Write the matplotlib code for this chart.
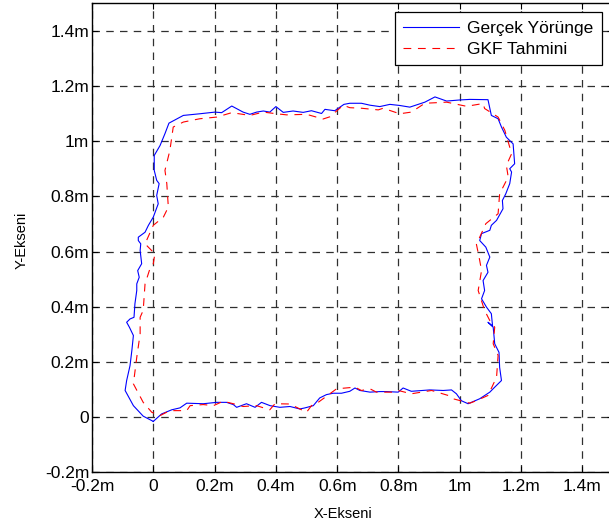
import matplotlib
matplotlib.use("Agg")
import matplotlib.pyplot as plt

_FONT = "Liberation Sans"
_TICK_SIZE = 12.5
_LEGEND_SIZE = 12.5
_LABEL_SIZE = 10.5

_BLUE = "#0000ff"
_RED = "#ff0000"
_GRID = "#303030"

# Ground truth trajectory (metres)
true_x = [
    0.000, 0.027, 0.060, 0.087, 0.109, 0.163, 0.207, 0.239, 0.261, 0.272, 0.304, 0.332,
    0.353, 0.381, 0.413, 0.446, 0.478, 0.495, 0.522, 0.543, 0.565, 0.587, 0.614, 0.641,
    0.658, 0.674, 0.707, 0.739, 0.761, 0.799, 0.815, 0.842, 0.902, 0.946, 0.973, 0.989,
    1.005, 1.027, 1.065, 1.098, 1.114, 1.136,
    1.130, 1.128, 1.114, 1.109, 1.092, 1.107, 1.103, 1.087, 1.071, 1.081, 1.076, 1.092,
    1.087, 1.098, 1.085, 1.065, 1.071, 1.098, 1.103, 1.120, 1.141, 1.139, 1.150, 1.163,
    1.169, 1.163, 1.179, 1.174, 1.152, 1.136, 1.125, 1.103, 1.092,
    1.033, 1.000, 0.957, 0.919, 0.886, 0.837, 0.804, 0.772, 0.739, 0.707, 0.679, 0.641,
    0.622, 0.592, 0.560, 0.549, 0.516, 0.489, 0.456, 0.424, 0.400, 0.380, 0.359, 0.337,
    0.315, 0.293, 0.256, 0.223, 0.201, 0.152, 0.098, 0.051,
    0.038, 0.022, 0.003, 0.003, 0.011, 0.019, 0.011, 0.016, 0.000, -0.016, -0.027, -0.049,
    -0.049, -0.041, -0.043, -0.038, -0.051, -0.046, -0.054, -0.054, -0.060, -0.063, -0.076,
    -0.087, -0.078, -0.065, -0.070, -0.076, -0.087, -0.092, -0.065, -0.033, 0.000,
]
true_y = [
    -0.015, 0.012, 0.027, 0.034, 0.051, 0.049, 0.054, 0.054, 0.046, 0.036, 0.049, 0.036,
    0.054, 0.042, 0.036, 0.039, 0.030, 0.034, 0.042, 0.070, 0.082, 0.087, 0.087, 0.094,
    0.106, 0.097, 0.091, 0.093, 0.093, 0.091, 0.106, 0.094, 0.099, 0.097, 0.099, 0.085,
    0.060, 0.049, 0.067, 0.091, 0.109, 0.133,
    0.181, 0.235, 0.266, 0.326, 0.344, 0.330, 0.375, 0.399, 0.429, 0.459, 0.495, 0.525,
    0.550, 0.580, 0.616, 0.640, 0.665, 0.677, 0.695, 0.713, 0.755, 0.785, 0.809, 0.846,
    0.888, 0.900, 0.918, 0.990, 1.014, 1.051, 1.081, 1.093, 1.150,
    1.151, 1.149, 1.145, 1.160, 1.141, 1.123, 1.129, 1.133, 1.125, 1.130, 1.137, 1.137,
    1.133, 1.110, 1.115, 1.100, 1.110, 1.104, 1.109, 1.104, 1.125, 1.105, 1.109, 1.105,
    1.097, 1.105, 1.127, 1.103, 1.105, 1.099, 1.093, 1.065,
    1.027, 0.984, 0.948, 0.894, 0.858, 0.846, 0.803, 0.773, 0.725, 0.695, 0.670, 0.652,
    0.640, 0.628, 0.604, 0.556, 0.531, 0.507, 0.483, 0.459, 0.411, 0.362, 0.356,
    0.344, 0.326, 0.296, 0.242, 0.187, 0.133, 0.097, 0.042, 0.004, -0.015,
]

# GKF (filter) estimate (metres)
est_x = [
    0.022, 0.054, 0.109, 0.120, 0.163, 0.196, 0.228, 0.261, 0.293, 0.337, 0.380, 0.397,
    0.446, 0.462, 0.500, 0.516, 0.538, 0.598, 0.658, 0.679, 0.707, 0.728, 0.783, 0.799,
    0.842, 0.908, 0.962, 0.978, 1.033, 1.054, 1.092, 1.120, 1.125, 1.109, 1.114, 1.098,
    1.081, 1.060, 1.071, 1.065, 1.054, 1.065, 1.085, 1.125, 1.130, 1.158, 1.152, 1.169,
    1.163, 1.147, 1.125, 1.081, 1.076, 1.022, 0.957, 0.886, 0.842, 0.804, 0.750, 0.734,
    0.679, 0.641, 0.620, 0.576, 0.554, 0.500, 0.435, 0.402, 0.359, 0.315, 0.256, 0.207,
    0.152, 0.098, 0.065, 0.054, 0.038, 0.044, 0.049, 0.033, 0.000, -0.027, 0.005, 0.000,
    -0.011, -0.027, -0.033, -0.043, -0.043, -0.054, -0.065, -0.033, -0.005, 0.022,
]
est_y = [
    0.006, 0.024, 0.024, 0.042, 0.046, 0.042, 0.058, 0.049, 0.039, 0.042, 0.027, 0.049,
    0.048, 0.039, 0.018, 0.042, 0.054, 0.103, 0.109, 0.097, 0.103, 0.091, 0.091, 0.097,
    0.085, 0.097, 0.079, 0.067, 0.051, 0.060, 0.079, 0.145, 0.224, 0.266, 0.326, 0.350,
    0.387, 0.459, 0.531, 0.568, 0.628, 0.652, 0.701, 0.737, 0.809, 0.870, 0.912, 0.954,
    0.978, 1.039, 1.087, 1.118, 1.136, 1.126, 1.141, 1.137, 1.105, 1.099, 1.119, 1.113,
    1.119, 1.121, 1.130, 1.088, 1.080, 1.097, 1.095, 1.099, 1.105, 1.093, 1.103, 1.087,
    1.081, 1.069, 1.051, 0.966, 0.894, 0.846, 0.761, 0.725, 0.695, 0.628, 0.592, 0.556,
    0.538, 0.483, 0.387, 0.362, 0.302, 0.217, 0.121, 0.054, 0.018, 0.006,
]

ticks = [-0.2, 0.0, 0.2, 0.4, 0.6, 0.8, 1.0, 1.2, 1.4]
tick_labels = ["-0.2m", "0", "0.2m", "0.4m", "0.6m", "0.8m", "1m", "1.2m", "1.4m"]


def _setup(ax):
    ax.set_xlim(-0.2, 1.5)
    ax.set_ylim(-0.2, 1.5)
    ax.set_xticks(ticks)
    ax.set_xticklabels(tick_labels)
    ax.set_yticks(ticks)
    ax.set_yticklabels(tick_labels)
    ax.tick_params(direction="in", length=4, width=0.8, labelsize=_TICK_SIZE,
                   top=True, right=True)
    ax.tick_params(axis="x", pad=5)
    ax.tick_params(axis="y", pad=2)
    for spine in ax.spines.values():
        spine.set_linewidth(1.0)
        spine.set_color("black")

    # MATLAB style dashed grid
    ax.grid(True, color=_GRID, linewidth=0.9, dashes=(6, 5))
    ax.set_axisbelow(True)

    ax.set_xlabel("X-Ekseni", fontsize=_LABEL_SIZE)
    ax.set_ylabel("Y-Ekseni", fontsize=_LABEL_SIZE)
    ax.xaxis.set_label_coords(0.482, -0.074)
    ax.yaxis.set_label_coords(-0.122, 0.495)


def _plot(ax):
    ax.plot(true_x, true_y, color=_BLUE, linewidth=0.8, label="Gerçek Yörünge")
    est, = ax.plot(est_x, est_y, color=_RED, linewidth=0.8, label="GKF Tahmini")
    est.set_dashes((7, 6))

    leg = ax.legend(loc="upper right", bbox_to_anchor=(0.978, 0.980), borderaxespad=0,
                    fontsize=_LEGEND_SIZE, fancybox=False, framealpha=1,
                    edgecolor="black", handlelength=3.2, handletextpad=0.45,
                    labelspacing=0.3, borderpad=0.5)
    leg.get_frame().set_linewidth(0.9)


if __name__ == "__main__":
    plt.rcParams["font.family"] = [_FONT, "DejaVu Sans"]
    fig = plt.figure(figsize=(6.09, 5.30), dpi=100)
    ax = fig.add_axes([0.1511, 0.1085, 0.8555, 0.8858])
    _setup(ax)
    _plot(ax)
    fig.savefig("out.png", dpi=100)
